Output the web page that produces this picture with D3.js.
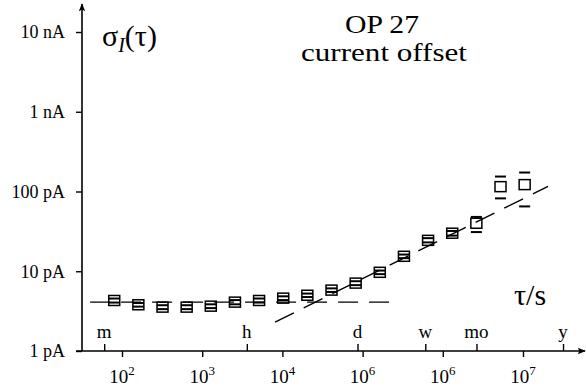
<!DOCTYPE html>
<html><head><meta charset="utf-8">
<script src="https://cdn.jsdelivr.net/npm/d3@7"></script>
<style>
html,body{margin:0;padding:0;background:#fff;}
svg{display:block;}
text{font-family:"Liberation Serif","DejaVu Serif",serif;fill:#000;}
</style></head>
<body><svg id="c" width="586" height="388"></svg>
<script>
// ---- data ----
const tau = [80,160,320,640,1280,2560,5120,10240,20480,40960,81920,163840,327680,655360,1310720,2621440,5242880,10485760];
const sigma = [4.3,3.8,3.55,3.55,3.65,4.1,4.3,4.6,5.0,5.8,7.1,9.7,15.4,24.4,30,40,115,122];
const errLo = [4.05,3.6,3.35,3.35,3.45,3.85,4.05,4.35,4.75,5.5,6.7,9.2,14.6,23,28,31,82,65];
const errHi = [4.55,4.0,3.75,3.75,3.85,4.35,4.55,4.85,5.25,6.1,7.5,10.2,16.2,26,32,48,154,173];
const flatLine = [[40,4.1],[220000,4.1]];
const slopeLine = [[8100,2.3],[20500000,116]];
const xTickVals = [1e2,1e3,1e4,1e5,1e6,1e7];
const xTickExp = ["2","3","4","6","6","7"];
const timeVals = [60,3600,86400,604800,2629800,31557600];
const timeLabels = ["m","h","d","w","mo","y"];
const yTickVals = [1,10,100,1000,10000];
const yTickLabels = ["1 pA","10 pA","100 pA","1 nA","10 nA"];

const FF = "Liberation Serif, DejaVu Serif, serif";
// ---- scales ----
const svg = d3.select("#c");
const x = d3.scaleLog().domain([1e2,1e7]).range([122,523]);
const y = d3.scaleLog().domain([1,1e4]).range([351,32]);
const X0 = 82, Y0 = 351;

// axis lines with arrows
svg.append("defs").append("marker").attr("id","arr").attr("viewBox","0 0 10 10")
  .attr("refX",9).attr("refY",5).attr("markerWidth",12).attr("markerHeight",8)
  .attr("markerUnits","userSpaceOnUse").attr("orient","auto")
  .append("path").attr("d","M0,1 L10,5 L0,9 L2,5 Z").attr("fill","#000");
svg.append("line").attr("x1",76).attr("y1",Y0).attr("x2",585).attr("y2",Y0)
  .attr("stroke","#000").attr("stroke-width",1.6).attr("marker-end","url(#arr)");
svg.append("line").attr("x1",X0).attr("y1",Y0).attr("x2",X0).attr("y2",4)
  .attr("stroke","#000").attr("stroke-width",1.6).attr("marker-end","url(#arr)");

// x decade ticks (below)
const gx = svg.append("g").attr("transform",`translate(0,${Y0})`)
  .call(d3.axisBottom(x).tickValues(xTickVals).tickSize(6).tickFormat(""));
gx.select(".domain").remove();
gx.selectAll(".tick line").attr("stroke-width",1.4);
xTickVals.forEach((v,i)=>{
  const t = svg.append("text").attr("x",x(v)).attr("y",383).attr("text-anchor","middle")
    .attr("font-family",FF).attr("font-size",19);
  t.append("tspan").text("10");
  t.append("tspan").attr("dy",-8).attr("font-size",13).text(xTickExp[i]);
});

// time markers (above)
const gt = svg.append("g").attr("transform",`translate(0,${Y0})`)
  .call(d3.axisTop(x).tickValues(timeVals).tickSize(7).tickFormat(""));
gt.select(".domain").remove();
gt.selectAll(".tick line").attr("stroke-width",1.4);
timeVals.forEach((v,i)=>{
  svg.append("text").attr("x",x(v)).attr("y",338).attr("text-anchor","middle")
    .attr("font-family",FF).attr("font-size",19).text(timeLabels[i]);
});

// y ticks
const gy = svg.append("g").attr("transform",`translate(${X0},0)`)
  .call(d3.axisLeft(y).tickValues(yTickVals).tickSize(6).tickPadding(11)
    .tickFormat((d,i)=>yTickLabels[i]));
gy.select(".domain").remove();
gy.attr("font-family",FF).attr("font-size",18);
gy.selectAll(".tick line").attr("stroke-width",1.4);
gy.selectAll(".tick text").attr("font-size",18).attr("font-family",FF);

// fit lines
const lineGen = d3.line().x(d=>x(d[0])).y(d=>y(d[1]));
svg.append("path").attr("d",lineGen(flatLine)).attr("fill","none")
  .attr("stroke","#000").attr("stroke-width",1.4).attr("stroke-dasharray","20,11");
svg.append("path").attr("d",lineGen(slopeLine)).attr("fill","none")
  .attr("stroke","#000").attr("stroke-width",1.4).attr("stroke-dasharray","21,11");

// error bars
const g = svg.append("g");
tau.forEach((t,i)=>{
  g.append("line").attr("x1",x(t)-5.5).attr("x2",x(t)+5.5).attr("y1",y(errLo[i])).attr("y2",y(errLo[i]))
    .attr("stroke","#000").attr("stroke-width",2);
  g.append("line").attr("x1",x(t)-5.5).attr("x2",x(t)+5.5).attr("y1",y(errHi[i])).attr("y2",y(errHi[i]))
    .attr("stroke","#000").attr("stroke-width",2);
});
// boxes
g.selectAll("rect.pt").data(tau).join("rect").attr("class","pt")
  .attr("x",d=>x(d)-5.5).attr("y",(d,i)=>y(sigma[i])-5).attr("width",11).attr("height",10)
  .attr("fill","none").attr("stroke","#000").attr("stroke-width",1.5);

// labels
const sl = svg.append("text").attr("x",102).attr("y",46).attr("font-family",FF).attr("font-size",30);
sl.append("tspan").text("σ");
sl.append("tspan").attr("font-size",20).attr("font-style","italic").attr("dy",6).text("I");
sl.append("tspan").attr("dy",-6).text("(τ)");

svg.append("text").attr("x",382).attr("y",33).attr("text-anchor","middle").attr("font-family",FF)
  .attr("font-size",25).attr("textLength",74).attr("lengthAdjust","spacingAndGlyphs").text("OP 27");
svg.append("text").attr("x",384).attr("y",61).attr("text-anchor","middle").attr("font-family",FF)
  .attr("font-size",25).attr("textLength",166).attr("lengthAdjust","spacingAndGlyphs").text("current offset");
svg.append("text").attr("x",514).attr("y",305).attr("font-family",FF).attr("font-size",30).text("τ/s");
</script></body></html>
